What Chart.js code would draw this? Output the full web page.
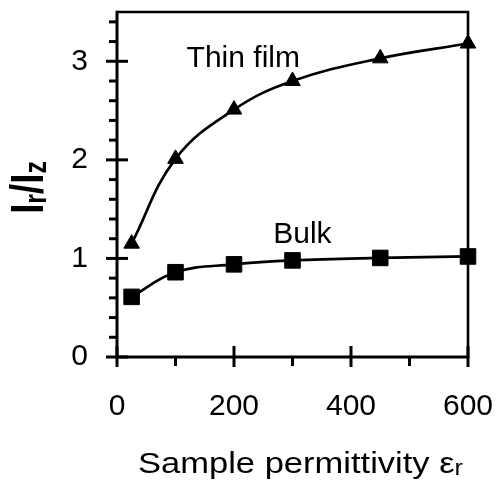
<!DOCTYPE html>
<html>
<head>
<meta charset="utf-8">
<script src="https://cdn.jsdelivr.net/npm/chart.js@4/dist/chart.umd.min.js"></script>
<style>
  html, body { margin: 0; padding: 0; background: #fff; }
  #wrap { width: 501px; height: 489px; }
</style>
</head>
<body>
<div id="wrap"><canvas id="chart" width="501" height="489"></canvas></div>
<script>
// sample permittivity values (x)
const permittivity = [25, 100, 200, 300, 450, 600];
// Ir/Iz ratios
const thinFilm = [1.15, 2.01, 2.51, 2.80, 3.03, 3.18];
const bulk = [0.61, 0.86, 0.94, 0.98, 1.005, 1.02];
const seriesNames = ['Thin film', 'Bulk'];
const xTicks = [0, 200, 400, 600];
const yTicks = [0, 1, 2, 3];

const FONT = '"Liberation Sans", Arial, sans-serif';

// in-plot labels, anchored in data units
const seriesLabelAt = [{ x: 119, y: 2.94 }, { x: 267, y: 1.16 }];

const toPoints = ys => ys.map((y, i) => ({ x: permittivity[i], y }));

// stop the scales from reserving extra room for edge labels
const noScalePadding = s => {
  s.paddingTop = 0; s.paddingBottom = 0; s.paddingLeft = 0; s.paddingRight = 0;
};

const decorations = {
  id: 'decorations',
  afterDraw(chart) {
    const ctx = chart.ctx;
    const { left, right, top, bottom } = chart.chartArea;
    const xs = chart.scales.x, ys = chart.scales.y;
    ctx.save();
    ctx.strokeStyle = '#000';
    ctx.lineCap = 'butt';

    // frame
    ctx.lineWidth = 2.6;
    ctx.beginPath();
    ctx.moveTo(left, top); ctx.lineTo(right, top); ctx.lineTo(right, bottom);
    ctx.stroke();
    ctx.lineWidth = 3;
    ctx.beginPath();
    ctx.moveTo(left, top - 1.3); ctx.lineTo(left, bottom); ctx.lineTo(right + 1.3, bottom);
    ctx.stroke();

    // y ticks
    for (let v = 0; v <= 3.41; v += 0.2) {
      const p = ys.getPixelForValue(v);
      const major = yTicks.some(t => Math.abs(t - v) < 1e-6);
      ctx.beginPath();
      ctx.moveTo(major ? left - 11 : left - 8, p);
      ctx.lineTo(major ? left + 11 : left, p);
      ctx.stroke();
    }
    // x ticks
    for (let v = 0; v <= 600; v += 100) {
      const p = xs.getPixelForValue(v);
      const major = xTicks.includes(v);
      ctx.beginPath();
      ctx.moveTo(p, major ? bottom - 11 : bottom);
      ctx.lineTo(p, major ? bottom + 10 : bottom + 9);
      ctx.stroke();
    }

    // series labels
    ctx.fillStyle = '#000';
    ctx.font = '30px ' + FONT;
    ctx.textBaseline = 'alphabetic';
    ctx.textAlign = 'left';
    seriesNames.forEach((name, i) => {
      const a = seriesLabelAt[i];
      ctx.fillText(name, xs.getPixelForValue(a.x), ys.getPixelForValue(a.y));
    });

    // x axis title: Sample permittivity εr
    const main = 'Sample permittivity ε';
    ctx.font = '30px ' + FONT;
    const wMain = ctx.measureText(main).width;
    ctx.font = '22px ' + FONT;
    const wSub = ctx.measureText('r').width;
    const sx = 325 / (wMain + wSub);
    ctx.save();
    ctx.translate((left + right) / 2 + 8 - (wMain + wSub) * sx / 2, 473);
    ctx.scale(sx, 1);
    ctx.font = '30px ' + FONT;
    ctx.fillText(main, 0, 0);
    ctx.font = '22px ' + FONT;
    ctx.fillText('r', wMain, 2);
    ctx.restore();

    // y axis title: Ir/Iz (bold)
    const parts = [
      { t: 'I', f: 'bold 46px ' + FONT, dy: 0 },
      { t: 'r', f: 'bold 31px ' + FONT, dy: 3 },
      { t: '/', f: 'bold 46px ' + FONT, dy: 0 },
      { t: 'I', f: 'bold 46px ' + FONT, dy: 0 },
      { t: 'z', f: 'bold 31px ' + FONT, dy: 3 }
    ];
    let total = 0;
    parts.forEach(p => { ctx.font = p.f; p.w = ctx.measureText(p.t).width; total += p.w; });
    const k = 0.8;
    ctx.save();
    ctx.translate(43, (top + bottom) / 2 + 3 + total * k / 2);
    ctx.rotate(-Math.PI / 2);
    ctx.scale(k, 1);
    let cx = 0;
    parts.forEach(p => { ctx.font = p.f; ctx.fillText(p.t, cx, p.dy); cx += p.w; });
    ctx.restore();

    ctx.restore();
  }
};

new Chart(document.getElementById('chart'), {
  type: 'line',
  data: {
    datasets: [
      {
        label: seriesNames[0],
        data: toPoints(thinFilm),
        borderColor: '#000',
        backgroundColor: '#000',
        borderWidth: 2.7,
        pointStyle: 'triangle',
        pointRadius: 9,
        pointBorderWidth: 1,
        tension: 0.4,
        clip: false
      },
      {
        label: seriesNames[1],
        data: toPoints(bulk),
        borderColor: '#000',
        backgroundColor: '#000',
        borderWidth: 2.7,
        pointStyle: 'rect',
        pointRadius: 11,
        pointBorderWidth: 1,
        tension: 0.4,
        clip: false
      }
    ]
  },
  options: {
    responsive: false,
    animation: false,
    layout: { padding: { top: 10, right: 33, left: 0, bottom: 0 } },
    plugins: { legend: { display: false }, tooltip: { enabled: false } },
    scales: {
      x: {
        type: 'linear',
        min: 0,
        max: 600,
        afterFit: s => { s.height = 132; noScalePadding(s); },
        afterBuildTicks: s => { s.ticks = xTicks.map(v => ({ value: v })); },
        grid: { display: false, drawTicks: false, tickLength: 0 },
        border: { display: false },
        ticks: { color: '#000', font: { family: FONT, size: 30, lineHeight: 1 }, padding: 35, maxRotation: 0 }
      },
      y: {
        type: 'linear',
        min: 0,
        max: 3.5,
        afterFit: s => { s.width = 117; noScalePadding(s); },
        afterBuildTicks: s => { s.ticks = yTicks.map(v => ({ value: v })); },
        grid: { display: false, drawTicks: false, tickLength: 0 },
        border: { display: false },
        ticks: { color: '#000', font: { family: FONT, size: 30, lineHeight: 1 }, padding: 29 }
      }
    }
  },
  plugins: [decorations]
});
</script>
</body>
</html>
